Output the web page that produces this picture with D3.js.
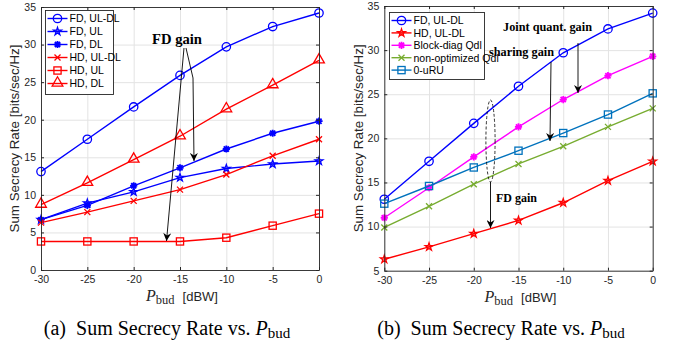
<!DOCTYPE html>
<html>
<head>
<meta charset="utf-8">
<script src="https://cdn.jsdelivr.net/npm/d3@7"></script>
<style>
  body { margin: 0; background: #fff; }
  svg { display: block; }
  .tick text { font-family: "Liberation Sans", Arial, sans-serif; font-size: 10.5px; fill: #262626; }
</style>
</head>
<body>
<div id="chart"></div>
<script>
// x values shared by both panels
const pBud = [-30, -25, -20, -15, -10, -5, 0];
const xTicks = [-30, -25, -20, -15, -10, -5, 0];

// panel (a)
const fdUlDl = [13.1, 17.4, 21.7, 25.9, 29.7, 32.4, 34.2];
const fdUl   = [6.7, 8.9, 10.4, 12.3, 13.5, 14.1, 14.5];
const fdDl   = [6.7, 8.6, 11.2, 13.6, 16.1, 18.2, 19.8];
const hdUlDl = [6.3, 7.7, 9.2, 10.7, 12.7, 15.2, 17.4];
const hdUl   = [3.8, 3.8, 3.8, 3.8, 4.3, 5.9, 7.5];
const hdDl   = [8.7, 11.6, 14.7, 17.8, 21.4, 24.6, 27.9];
const yTicksA = [0, 5, 10, 15, 20, 25, 30, 35];

// panel (b)
const blockDiag = [11.0, 14.4, 17.9, 21.3, 24.4, 27.1, 29.3];
const nonOpt    = [9.9, 12.3, 14.8, 17.1, 19.1, 21.3, 23.4];
const zeroURU   = [12.6, 14.6, 16.7, 18.6, 20.6, 22.7, 25.1];
const yTicksB = [5, 10, 15, 20, 25, 30, 35];

const W = 678, H = 345;
const BLUE = '#0000ff', RED = '#ff0000', MAG = '#ff00ff', GRN = '#77ac30', TEAL = '#0072bd';

const svg = d3.select('#chart').append('svg')
  .attr('width', W).attr('height', H);

svg.append('defs').append('marker')
  .attr('id', 'head')
  .attr('viewBox', '0 0 10 10')
  .attr('refX', 10).attr('refY', 5)
  .attr('markerUnits', 'userSpaceOnUse')
  .attr('markerWidth', 12).attr('markerHeight', 8)
  .attr('orient', 'auto')
  .append('path')
  .attr('d', 'M0,0 L10,5 L0,10 L3,5 Z')
  .attr('fill', '#000');

// marker shapes
function drawMarker(g, type, x, y, color) {
  if (type === 'circle') {
    g.append('circle').attr('cx', x).attr('cy', y).attr('r', 4.2)
      .attr('fill', 'none').attr('stroke', color).attr('stroke-width', 1.3);
  } else if (type === 'square') {
    g.append('rect').attr('x', x - 3.6).attr('y', y - 3.6).attr('width', 7.2).attr('height', 7.2)
      .attr('fill', 'none').attr('stroke', color).attr('stroke-width', 1.3);
  } else if (type === 'triangle') {
    g.append('path').attr('d', d3.symbol(d3.symbolTriangle, 50)())
      .attr('transform', 'translate(' + x + ',' + (y - 0.5) + ')')
      .attr('fill', 'none').attr('stroke', color).attr('stroke-width', 1.3);
  } else if (type === 'star') {
    g.append('path').attr('d', d3.symbol(d3.symbolStar, 20)())
      .attr('transform', 'translate(' + x + ',' + y + ')')
      .attr('fill', color).attr('fill-opacity', 0.5)
      .attr('stroke', color).attr('stroke-width', 1.2);
  } else if (type === 'asterisk') {
    const r = 3.6, d = 2.6;
    g.append('path')
      .attr('d', `M${x - r},${y}H${x + r}M${x},${y - r}V${y + r}M${x - d},${y - d}L${x + d},${y + d}M${x - d},${y + d}L${x + d},${y - d}`)
      .attr('stroke', color).attr('stroke-width', 1.8).attr('fill', 'none');
  } else if (type === 'cross') {
    const d = 3;
    g.append('path')
      .attr('d', `M${x - d},${y - d}L${x + d},${y + d}M${x - d},${y + d}L${x + d},${y - d}`)
      .attr('stroke', color).attr('stroke-width', 1.3).attr('fill', 'none');
  }
}

function drawPanel(cfg) {
  const x = d3.scaleLinear().domain([-30, 0]).range([cfg.left, cfg.right]);
  const y = d3.scaleLinear().domain(cfg.yDomain).range([cfg.bottom, cfg.top]);
  const g = svg.append('g');
  const h = cfg.bottom - cfg.top, w = cfg.right - cfg.left;

  // grid
  g.append('g').attr('transform', 'translate(0,' + cfg.bottom + ')')
    .call(d3.axisBottom(x).tickValues(xTicks).tickSize(-h).tickFormat(''))
    .call(s => s.select('.domain').remove())
    .call(s => s.selectAll('line').attr('stroke', '#e3e3e3'));
  g.append('g').attr('transform', 'translate(' + cfg.left + ',0)')
    .call(d3.axisLeft(y).tickValues(cfg.yTicks).tickSize(-w).tickFormat(''))
    .call(s => s.select('.domain').remove())
    .call(s => s.selectAll('line').attr('stroke', '#e3e3e3'));

  // series
  const line = d3.line().x(d => x(d[0])).y(d => y(d[1]));
  cfg.series.forEach(s => {
    const pts = pBud.map((p, i) => [p, s.values[i]]);
    g.append('path').attr('d', line(pts))
      .attr('fill', 'none').attr('stroke', s.color).attr('stroke-width', 1.4);
    const mg = g.append('g');
    pts.forEach(p => drawMarker(mg, s.marker, x(p[0]), y(p[1]), s.color));
  });

  // axes box with inward ticks
  const ax = g.append('g');
  ax.append('g').attr('transform', 'translate(0,' + cfg.bottom + ')')
    .call(d3.axisBottom(x).tickValues(xTicks).tickSizeInner(-3).tickSizeOuter(0).tickPadding(6));
  ax.append('g').attr('transform', 'translate(0,' + cfg.top + ')')
    .call(d3.axisTop(x).tickValues(xTicks).tickSizeInner(-3).tickSizeOuter(0).tickFormat(''));
  ax.append('g').attr('transform', 'translate(' + cfg.left + ',0)')
    .call(d3.axisLeft(y).tickValues(cfg.yTicks).tickSizeInner(-3).tickSizeOuter(0).tickPadding(5));
  ax.append('g').attr('transform', 'translate(' + cfg.right + ',0)')
    .call(d3.axisRight(y).tickValues(cfg.yTicks).tickSizeInner(-3).tickSizeOuter(0).tickFormat(''));
  ax.selectAll('.domain').attr('stroke', '#262626').attr('stroke-width', 0.9);
  ax.selectAll('.tick line').attr('stroke', '#262626');
  ax.selectAll('.tick text').text(function () { return this.textContent.replace('\u2212', '-'); });

  // y label
  g.append('text')
    .attr('transform', 'translate(' + cfg.yLabelX + ',' + ((cfg.top + cfg.bottom) / 2) + ') rotate(-90)')
    .attr('text-anchor', 'middle')
    .attr('textLength', 188).attr('lengthAdjust', 'spacingAndGlyphs')
    .style('font-family', '"Liberation Sans", Arial, sans-serif')
    .style('font-size', '12.5px').attr('fill', '#262626')
    .text('Sum Secrecy Rate [bits/sec/Hz]');

  // x label
  const xl = g.append('text')
    .attr('x', (cfg.left + cfg.right) / 2 + 2).attr('y', cfg.bottom + 31)
    .attr('text-anchor', 'middle').attr('fill', '#262626');
  xl.append('tspan').style('font-family', '"Liberation Serif", serif')
    .style('font-style', 'italic').style('font-size', '16px').text('P');
  xl.append('tspan').style('font-family', '"Liberation Serif", serif')
    .style('font-size', '12.5px').attr('dy', 3).text('bud');
  xl.append('tspan').style('font-family', '"Liberation Sans", Arial, sans-serif')
    .style('font-size', '13px').attr('dy', -3).attr('dx', 8).text('[dBW]');

  // caption
  const cap = svg.append('text')
    .attr('x', cfg.capX).attr('y', 335)
    .attr('text-anchor', 'middle').attr('fill', '#000')
    .style('font-family', '"Liberation Serif", "Times New Roman", serif')
    .style('font-size', '20px');
  cap.append('tspan').text(cfg.capLetter + '\u2002Sum Secrecy Rate vs. ');
  cap.append('tspan').style('font-style', 'italic').text('P');
  cap.append('tspan').style('font-size', '15px').attr('dy', 3).text('bud');

  // legend
  const lg = svg.append('g');
  lg.append('rect').attr('x', cfg.legend.x).attr('y', cfg.legend.y)
    .attr('width', cfg.legend.w).attr('height', cfg.legend.h)
    .attr('fill', '#fff').attr('stroke', '#262626').attr('stroke-width', 0.9);
  cfg.series.forEach((s, i) => {
    const ly = cfg.legend.y + 8 + i * cfg.legend.step;
    const lx0 = cfg.legend.x + 2, lx1 = cfg.legend.x + 22;
    lg.append('line').attr('x1', lx0).attr('x2', lx1).attr('y1', ly).attr('y2', ly)
      .attr('stroke', s.color).attr('stroke-width', 1.4);
    drawMarker(lg, s.marker, (lx0 + lx1) / 2, ly, s.color);
    lg.append('text').attr('x', lx1 + 2).attr('y', ly + 3.8)
      .style('font-family', '"Liberation Sans", Arial, sans-serif')
      .style('font-size', '10.5px').attr('fill', '#000').text(s.name);
  });
  return { x, y };
}

function note(txt, x, y, size, len) {
  svg.append('text').attr('x', x).attr('y', y)
    .attr('textLength', len).attr('lengthAdjust', 'spacingAndGlyphs')
    .style('font-family', '"Liberation Serif", "Times New Roman", serif')
    .style('font-weight', 'bold').style('font-size', size + 'px')
    .attr('fill', '#000').text(txt);
}
function arrow(pts) {
  svg.append('path').attr('d', d3.line()(pts))
    .attr('fill', 'none').attr('stroke', '#000').attr('stroke-width', 0.9)
    .attr('marker-end', 'url(#head)');
}

// panel (a)
drawPanel({
  left: 41, right: 319, top: 7, bottom: 270,
  yDomain: [0, 35], yTicks: yTicksA, yLabelX: 19, capX: 167, capLetter: '(a)',
  legend: { x: 45.5, y: 10.5, w: 68, h: 84, step: 13 },
  series: [
    { name: 'FD, UL-DL', values: fdUlDl, color: BLUE, marker: 'circle' },
    { name: 'FD, UL', values: fdUl, color: BLUE, marker: 'star' },
    { name: 'FD, DL', values: fdDl, color: BLUE, marker: 'asterisk' },
    { name: 'HD, UL-DL', values: hdUlDl, color: RED, marker: 'cross' },
    { name: 'HD, UL', values: hdUl, color: RED, marker: 'square' },
    { name: 'HD, DL', values: hdDl, color: RED, marker: 'triangle' }
  ]
});

// panel (b)
drawPanel({
  left: 384.3, right: 652.7, top: 6, bottom: 270.7,
  yDomain: [5, 35], yTicks: yTicksB, yLabelX: 363, capX: 501, capLetter: '(b)',
  legend: { x: 389.5, y: 12.5, w: 95, h: 67, step: 12.4 },
  series: [
    { name: 'FD, UL-DL', values: fdUlDl, color: BLUE, marker: 'circle' },
    { name: 'HD, UL-DL', values: hdUlDl, color: RED, marker: 'star' },
    { name: 'Block-diag Qdl', values: blockDiag, color: MAG, marker: 'asterisk' },
    { name: 'non-optimized Qdl', values: nonOpt, color: GRN, marker: 'cross' },
    { name: '0-uRU', values: zeroURU, color: TEAL, marker: 'square' }
  ]
});

// annotations (a)
note('FD gain', 152, 44, 15, 50);
arrow([[184, 48], [166.5, 241]]);
arrow([[186, 48], [193, 78], [194, 161]]);

// annotations (b)
note('Joint quant. gain', 503, 31, 13, 89);
note('sharing gain', 489, 56, 13, 65);
note('FD gain', 496, 202, 12, 41);
arrow([[578, 43], [578, 93]]);
arrow([[551, 62], [550, 141]]);
svg.append('ellipse').attr('cx', 490.5).attr('cy', 141).attr('rx', 4.6).attr('ry', 41)
  .attr('fill', 'none').attr('stroke', '#000').attr('stroke-width', 0.8)
  .attr('stroke-dasharray', '3,2');
arrow([[490.5, 182], [490.5, 228]]);
</script>
</body>
</html>
